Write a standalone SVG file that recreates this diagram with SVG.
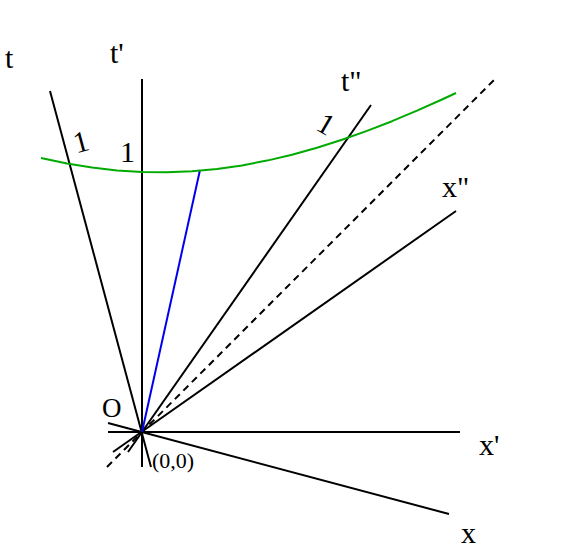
<svg xmlns="http://www.w3.org/2000/svg" width="567" height="558" viewBox="0 0 567 558">
<style>
.ax{stroke:#000;stroke-width:2;fill:none;stroke-linecap:butt}
.lb{font-family:"Liberation Serif","Times New Roman",serif;font-size:30px;fill:#000}
</style>
<rect width="567" height="558" fill="#fff"/>
<g id="connectors">
<line id="axis-t" class="ax" x1="50" y1="91" x2="151" y2="467"/>
<line id="axis-t1" class="ax" x1="142" y1="79" x2="142" y2="467"/>
<line id="axis-x1" class="ax" x1="108" y1="432" x2="460" y2="432"/>
<line id="axis-x" class="ax" x1="108" y1="423" x2="449" y2="514"/>
<line id="axis-t2" class="ax" x1="128" y1="452" x2="371" y2="105"/>
<line id="axis-x2" class="ax" x1="113" y1="452" x2="456" y2="211"/>
<line id="light" class="ax" x1="107" y1="467" x2="496" y2="78" stroke-dasharray="7 5"/>
<line id="blue" x1="142" y1="432" x2="200" y2="170" stroke="#0000ee" stroke-width="2"/>
<path id="hyperbola" d="M41,158 L67,163.5 L92,167.6 L117,170.4 L142,172 L167,172.3 L192,171.3 L217,168.9 L242,165.4 L267,160.6 L292,154.7 L317,147.7 L342,139.8 L367,130.9 L392,121.2 L417,110.7 L442,99.5 L456,93" fill="none" stroke="#00aa00" stroke-width="2" stroke-linejoin="round"/>
</g>
<g id="labels">
<text class="lb" x="5" y="68">t</text>
<text class="lb" x="110" y="63">t'</text>
<text class="lb" x="341" y="91">t"</text>
<text class="lb" x="442" y="197">x"</text>
<text class="lb" x="479" y="455">x'</text>
<text class="lb" x="461" y="543">x</text>
<text class="lb" x="102" y="417" style="font-size:27px">O</text>
<text class="lb" x="152" y="468" style="font-size:22px">(0,0)</text>
<text class="lb" x="120" y="162">1</text>
<text class="lb" x="81" y="152" text-anchor="middle" transform="rotate(-15 81 142)">1</text>
<text class="lb" x="326" y="134" text-anchor="middle" transform="rotate(30 326 124)">1</text>
</g>
</svg>
